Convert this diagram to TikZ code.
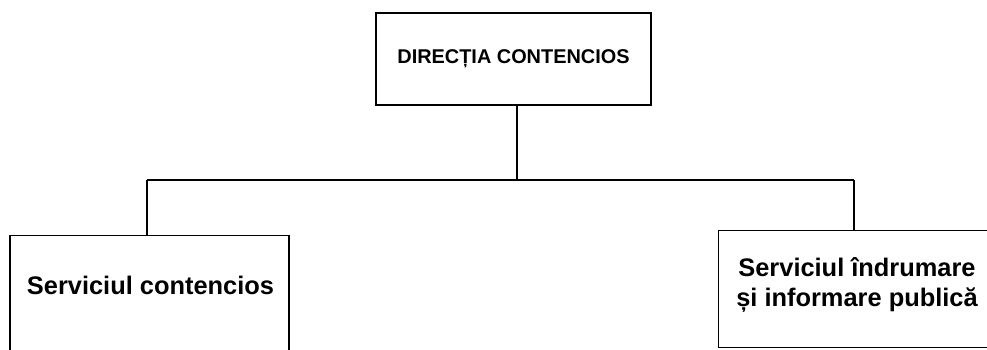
\documentclass[tikz,border=0pt]{standalone}
\usepackage{fontspec}
\setmainfont{Liberation Sans}

\begin{document}
\begin{tikzpicture}[x=1pt,y=-1pt,line width=1.1pt]
\tikzstyle{every node}=[font=\bfseries]
\tikzstyle{unit}=[draw, rectangle, inner sep=0pt]
\tikzstyle{unitname}=[inner sep=0pt, align=center, font=\fontsize{25.4}{30}\selectfont\bfseries]

\useasboundingbox (0,0) rectangle (987,349);
\clip (0,0) rectangle (987,349);

\node[unit, minimum width=275, minimum height=92, font=\fontsize{19.9}{24}\selectfont\bfseries] (dir) at (513.5,59) {DIRECȚIA CONTENCIOS};
\node[unit, minimum width=279, minimum height=125, anchor=north] (sc) at (149.5,235) {};
\node[unit, minimum width=290, minimum height=117, anchor=north west] (sip) at (718,230) {};
\node[unitname] (sctext) at (150.5,285) {Serviciul contencios};
\node[unitname] (siptext) at (857,285) {Serviciul îndrumare\\și informare publică};

\coordinate (j) at (517,180);
\coordinate (jl) at (147,180);
\coordinate (jr) at (854,180);

\draw (dir.south -| j) -- (j);
\draw (jl) -- (jr);
\draw (jl) -- (jl |- sc.north);
\draw (jr) -- (jr |- sip.north);

\end{tikzpicture}
\end{document}
